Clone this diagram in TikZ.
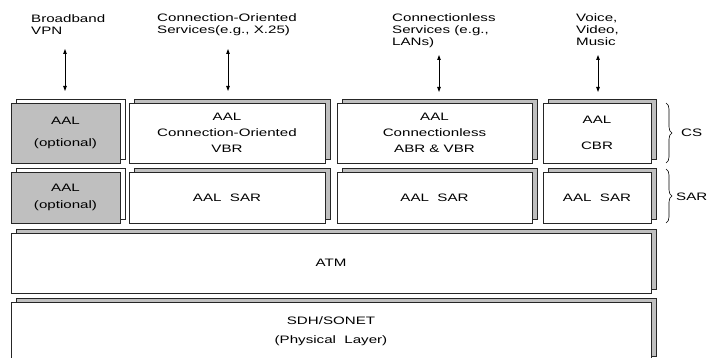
\documentclass[tikz,border=0pt]{standalone}
\usepackage{fontspec}
\setmainfont{Liberation Sans}[FakeStretch=1.4]
\usetikzlibrary{shadows,decorations.pathreplacing,arrows.meta}
\colorlet{boxgray}{gray!50}
\colorlet{edge}{black!85}
\tikzset{
  layerbase/.style={draw=edge, line width=0.8pt, anchor=north west, inner sep=0pt, outer sep=0pt, align=center},
  layer/.style={layerbase, fill=white,
    copy shadow={shadow xshift=5pt, shadow yshift=4pt, fill=boxgray, draw=edge, line width=0.8pt}},
  optlayer/.style={layerbase, fill=boxgray,
    copy shadow={shadow xshift=5pt, shadow yshift=4pt, fill=white, draw=edge, line width=0.8pt}},
  service/.style={anchor=north west, align=left, inner sep=0pt},
  updown/.style={{Triangle[length=5pt,width=3.5pt]}-{Triangle[length=5pt,width=3.5pt]}, line width=0.8pt},
  sidebrace/.style={decorate, decoration={brace, amplitude=6pt}, line width=0.6pt}
}
\begin{document}
\begin{tikzpicture}[x=1pt, y=-1pt, every node/.style={font=\fontsize{10.8}{12}\selectfont}]
  \useasboundingbox (0,0) rectangle (711,358);
  \clip (0,0) rectangle (711,358);

  % services on top
  \node[service] (vpn) at (31,14) {Broadband\\VPN};
  \node[service] (co) at (157,13) {Connection-Oriented\\Services(e.g., X.25)};
  \node[service] (cl) at (392,13) {Connectionless\\Services (e.g.,\\LANs)};
  \node[service] (media) at (576,13) {Voice,\\Video,\\Music};

  % CS row
  \node[optlayer, minimum width=109pt, minimum height=60pt] (cs1) at (11,103) {AAL\\[9.5pt](optional)};
  \node[layer, minimum width=196pt, minimum height=60pt] (cs2) at (129,103) {AAL\\[4pt]Connection-Oriented\\[4pt]VBR};
  \node[layer, minimum width=195pt, minimum height=60pt] (cs3) at (337,103) {AAL\\[4pt]Connectionless\\[4pt]ABR \& VBR};
  \node[layer, minimum width=108pt, minimum height=60pt] (cs4) at (543,103) {AAL\\[14.5pt]CBR};

  % SAR row
  \node[optlayer, minimum width=109pt, minimum height=51pt] (sar1) at (11,172) {AAL\\[5.5pt](optional)};
  \node[layer, minimum width=196pt, minimum height=51pt] (sar2) at (129,172) {AAL\ \ SAR};
  \node[layer, minimum width=195pt, minimum height=51pt] (sar3) at (337,172) {AAL\ \ SAR};
  \node[layer, minimum width=108pt, minimum height=51pt] (sar4) at (543,172) {AAL\ \ SAR};

  % ATM and physical layer
  \node[layer, minimum width=640pt, minimum height=60pt] (atm) at (11,233) {ATM};
  \node[layer, minimum width=640pt, minimum height=58pt] (sdh) at (11,302) {SDH/SONET\\[7.5pt](Physical\ \ Layer)};

  % arrows
  \coordinate (up1) at (65,49);
  \coordinate (up2) at (228,49);
  \coordinate (up3) at (439,55);
  \coordinate (up4) at (598,55);
  \draw[updown, shorten >=12pt] (up1) -- (up1 |- cs1.north);
  \draw[updown, shorten >=12pt] (up2) -- (up2 |- cs2.north);
  \draw[updown, shorten >=11pt] (up3) -- (up3 |- cs3.north);
  \draw[updown, shorten >=11pt] (up4) -- (up4 |- cs4.north);

  % braces
  \draw[sidebrace] (666,103) -- (666,163);
  \node[anchor=west, inner sep=0pt] (cs) at (681,133) {CS};
  \draw[sidebrace] (666,169) -- (666,223);
  \node[anchor=west, inner sep=0pt] (sar) at (676,197) {SAR};
\end{tikzpicture}
\end{document}
